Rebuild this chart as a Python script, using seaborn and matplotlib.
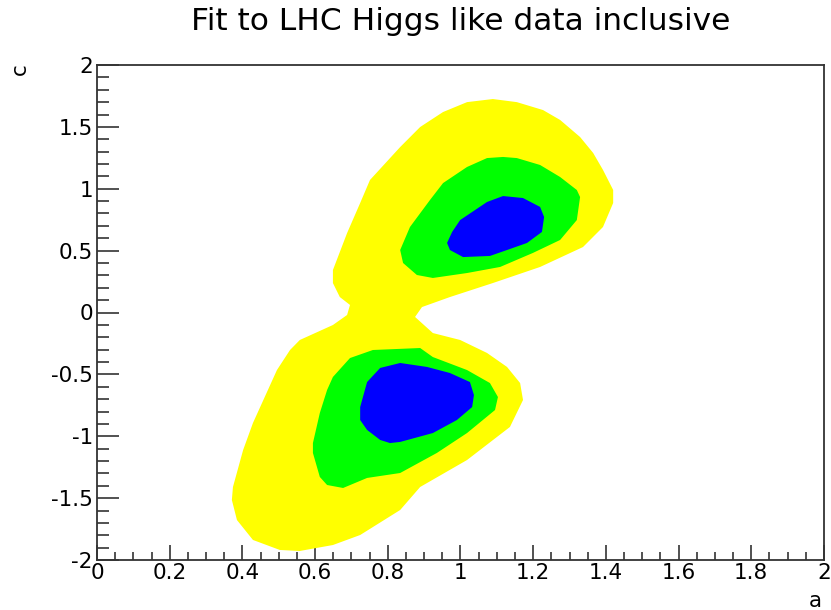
import matplotlib
matplotlib.use("Agg")
import matplotlib.pyplot as plt
from matplotlib.ticker import MultipleLocator
import seaborn as sns

# ---- data: confidence-region outlines (a, c) ----
yellow_a = [1.089, 1.155, 1.227, 1.274, 1.329, 1.365, 1.392, 1.420, 1.420, 1.392, 1.337, 1.219,
            1.089, 0.971, 0.894, 0.875, 0.924, 0.999, 1.073, 1.128, 1.164, 1.172, 1.136, 1.018,
            0.889, 0.834, 0.724, 0.649, 0.558, 0.503, 0.429, 0.385, 0.371, 0.374, 0.402, 0.429,
            0.495, 0.531, 0.558, 0.649, 0.688, 0.696, 0.668, 0.649, 0.649, 0.688, 0.724, 0.751,
            0.834, 0.889, 0.952, 1.018]
yellow_c = [1.725, 1.700, 1.636, 1.556, 1.418, 1.289, 1.152, 0.990, 0.885, 0.691, 0.529, 0.368,
            0.238, 0.125, 0.044, -0.036, -0.166, -0.222, -0.327, -0.440, -0.570, -0.707, -0.925, -1.192,
            -1.410, -1.596, -1.798, -1.879, -1.927, -1.919, -1.838, -1.677, -1.515, -1.410, -1.111, -0.893,
            -0.465, -0.303, -0.222, -0.101, -0.020, 0.061, 0.125, 0.238, 0.343, 0.642, 0.885, 1.071,
            1.337, 1.499, 1.620, 1.700]

green_up_a = [0.842, 0.880, 0.924, 1.018, 1.109, 1.199, 1.274, 1.320, 1.329, 1.320, 1.274, 1.219,
              1.155, 1.117, 1.073, 1.018, 0.952, 0.916, 0.861, 0.834]
green_up_c = [0.400, 0.303, 0.279, 0.319, 0.368, 0.481, 0.586, 0.747, 0.933, 0.990, 1.095, 1.192,
              1.248, 1.257, 1.248, 1.176, 1.046, 0.909, 0.691, 0.505]

blue_up_a = [0.963, 0.977, 0.999, 1.073, 1.117, 1.172, 1.219, 1.230, 1.224, 1.183, 1.128, 1.081,
             1.007, 0.971]
blue_up_c = [0.562, 0.651, 0.747, 0.893, 0.941, 0.925, 0.853, 0.772, 0.651, 0.562, 0.505, 0.457,
             0.448, 0.505]

green_lo_a = [0.649, 0.696, 0.759, 0.889, 0.924, 1.018, 1.081, 1.103, 1.095, 1.018, 0.935, 0.834,
              0.743, 0.677, 0.633, 0.613, 0.594, 0.594, 0.613, 0.633]
green_lo_c = [-0.521, -0.368, -0.303, -0.287, -0.360, -0.465, -0.570, -0.683, -0.788, -0.974, -1.135, -1.297,
              -1.337, -1.418, -1.394, -1.329, -1.135, -1.055, -0.812, -0.626]

blue_lo_a = [0.724, 0.743, 0.779, 0.834, 0.908, 0.971, 1.026, 1.037, 1.032, 0.990, 0.924, 0.834,
             0.806, 0.779, 0.743, 0.724]
blue_lo_c = [-0.764, -0.562, -0.448, -0.408, -0.440, -0.489, -0.562, -0.667, -0.764, -0.869, -0.974, -1.046,
             -1.055, -1.030, -0.949, -0.869]

x_ticks = [0, 0.2, 0.4, 0.6, 0.8, 1, 1.2, 1.4, 1.6, 1.8, 2]
x_tick_labels = ["0", "0.2", "0.4", "0.6", "0.8", "1", "1.2", "1.4", "1.6", "1.8", "2"]
y_ticks = [-2, -1.5, -1, -0.5, 0, 0.5, 1, 1.5, 2]
y_tick_labels = ["-2", "-1.5", "-1", "-0.5", "0", "0.5", "1", "1.5", "2"]

title = "Fit to LHC Higgs like data inclusive"
x_label = "a"
y_label = "c"

# ---- drawing ----
sns.set_style("white")
plt.rcParams["font.family"] = ["DejaVu Sans"]
plt.rcParams["text.color"] = "black"

fig = plt.figure(figsize=(8.31, 6.10), dpi=100)
ax = fig.add_axes([97 / 831, 1 - 560 / 610, (824 - 97) / 831, (560 - 65) / 610])

ax.fill(yellow_a, yellow_c, color="#ffff00", lw=0)
ax.fill(green_up_a, green_up_c, color="#00ff00", lw=0)
ax.fill(green_lo_a, green_lo_c, color="#00ff00", lw=0)
ax.fill(blue_up_a, blue_up_c, color="#0000ff", lw=0)
ax.fill(blue_lo_a, blue_lo_c, color="#0000ff", lw=0)

ax.set_xlim(0, 2)
ax.set_ylim(-2, 2)
ax.set_xticks(x_ticks)
ax.set_xticklabels(x_tick_labels)
ax.set_yticks(y_ticks)
ax.set_yticklabels(y_tick_labels)
ax.xaxis.set_minor_locator(MultipleLocator(0.05))
ax.yaxis.set_minor_locator(MultipleLocator(0.1))

ax.tick_params(axis="both", which="both", direction="in", top=False, right=False,
               bottom=True, left=True,
               color="#222222", width=1.1, labelsize=15.5, labelcolor="black")
ax.tick_params(axis="x", which="major", length=11, pad=2)
ax.tick_params(axis="x", which="minor", length=5.8)
ax.tick_params(axis="y", which="major", length=15.5, pad=3)
ax.tick_params(axis="y", which="minor", length=8.4)

for s in ax.spines.values():
    s.set_visible(True)
    s.set_color("#333333")
    s.set_linewidth(1.3)

fig.text(461 / 831, 1 - 21 / 610, title, ha="center", va="center", fontsize=22.5, color="black")
fig.text(20 / 831, 1 - 69 / 610, y_label, ha="center", va="center", rotation=90, fontsize=15.5, color="black")
fig.text(815 / 831, 1 - 601 / 610, x_label, ha="center", va="center", fontsize=15.5, color="black")

fig.savefig("out.png", dpi=100, facecolor="white")
